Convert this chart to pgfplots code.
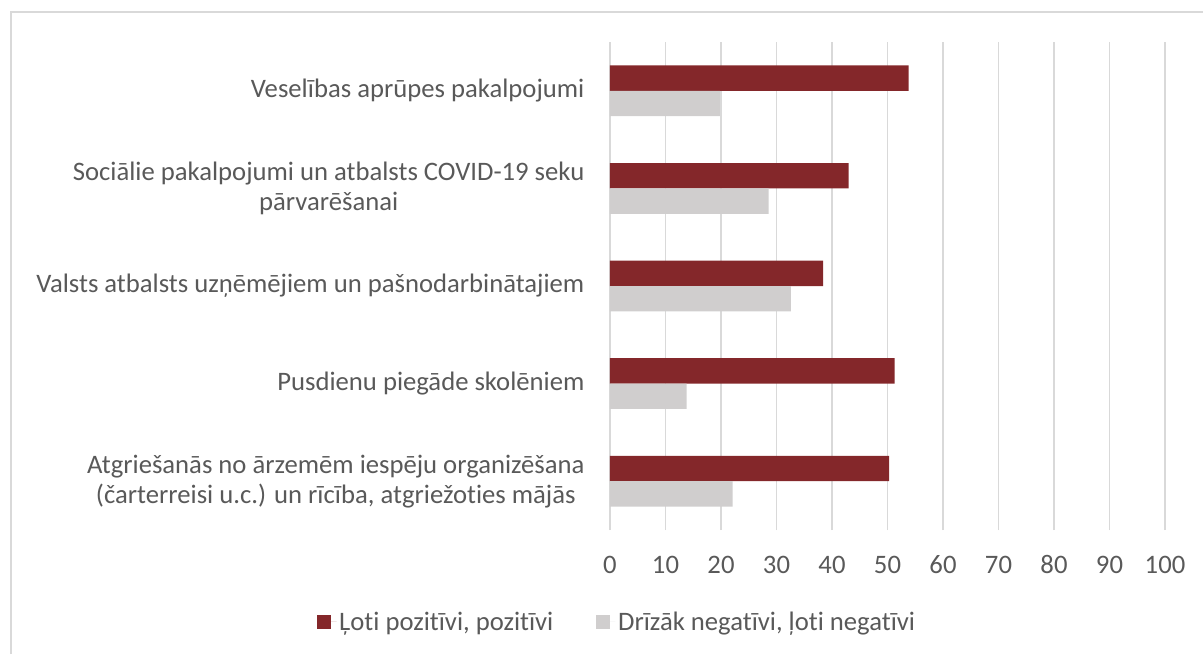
\documentclass[border=0pt]{standalone}
\usepackage{pgfplots}
\pgfplotsset{compat=1.18}
\usepackage{fontspec}
\setmainfont{Carlito}[Ligatures={NoCommon}]
\definecolor{barred}{HTML}{84272A}
\definecolor{bargray}{HTML}{D0CECE}
\definecolor{txt}{HTML}{595959}
\definecolor{gridc}{HTML}{D9D9D9}
\begin{document}
\begin{tikzpicture}
\path[use as bounding box] (0pt,0pt) rectangle (902.25pt,490.5pt);
\draw[gridc, line width=1.3pt] (8.25pt,0pt) -- (8.25pt,481.5pt) -- (902.25pt,481.5pt);
\begin{axis}[
  at={(457.5pt,93pt)}, anchor=south west,
  scale only axis, width=416.25pt, height=366pt,
  xmin=0, xmax=100, ymin=-0.5, ymax=4.5,
  xtick={0,10,...,100}, ytick={0,1,2,3,4},
  yticklabels={{Atgriešanās no ārzemēm iespēju organizēšana\\(čarterreisi u.c.) un rīcība, atgriežoties mājās},
    {Pusdienu piegāde skolēniem},
    {Valsts atbalsts uzņēmējiem un pašnodarbinātajiem},
    {Sociālie pakalpojumi un atbalsts COVID-19 seku\\pārvarēšanai},
    {Veselības aprūpes pakalpojumi}},
  axis line style={draw=none},
  major tick length=0pt,
  xmajorgrids, major grid style={gridc, line width=1.3pt},
  tick label style={font=\fontsize{20}{22.5}\selectfont, text=txt},
  /pgf/number format/assume math mode=true,
  yticklabel style={align=center, anchor=east, inner sep=0pt, xshift=-19pt},
  xticklabel style={anchor=center, inner sep=0pt, yshift=-26pt},
  legend style={at={(0.0135,-0.1885)}, anchor=center, draw=none, fill=none,
    legend columns=2, font=\fontsize{20}{22}\selectfont, text=txt,
    /tikz/every even column/.append style={column sep=30pt}},
]
\addplot[xbar, fill=barred, draw=none, bar width=0.26, bar shift=0.13,
  legend image code/.code={\fill[barred] (0pt,-5.25pt) rectangle (10.5pt,5.25pt); \path (0pt,0pt) -- (14.5pt,0pt);}]
  coordinates {(50.3,0) (51.3,1) (38.4,2) (43.0,3) (53.8,4)};
\addplot[xbar, fill=bargray, draw=none, bar width=0.26, bar shift=-0.13,
  legend image code/.code={\fill[bargray] (0pt,-5.25pt) rectangle (10.5pt,5.25pt); \path (0pt,0pt) -- (14.5pt,0pt);}]
  coordinates {(22.1,0) (13.8,1) (32.6,2) (28.6,3) (19.8,4)};
\legend{{Ļoti pozitīvi, pozitīvi}, {Drīzāk negatīvi, ļoti negatīvi}}
\end{axis}
\end{tikzpicture}
\end{document}
